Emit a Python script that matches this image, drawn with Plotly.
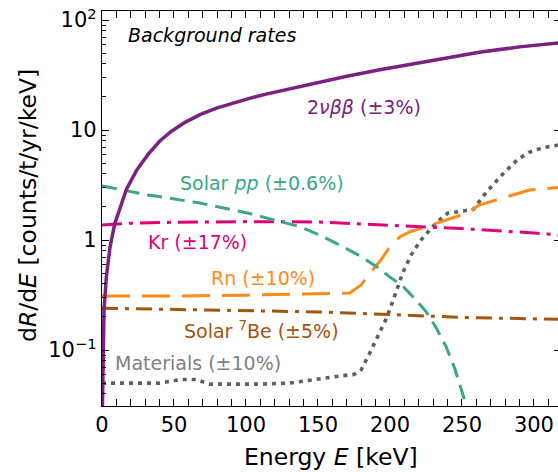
import plotly.graph_objects as go

# ---------------- data ----------------
E_2nu = [0.3, 0.7, 1.4, 3, 5.5, 8.8, 12, 17, 24, 32, 40, 48, 58, 68, 80, 91, 103, 114, 126, 138, 155, 170, 193, 216, 240, 262, 290, 317]
R_2nu = [0.03, 0.1, 0.23, 0.46, 0.85, 1.4, 1.9, 2.9, 4.3, 6.0, 7.9, 9.7, 11.8, 13.8, 15.9, 17.6, 19.5, 21.2, 23.0, 24.8, 27.8, 30.8, 35.3, 40.0, 45.5, 51.0, 57.0, 62.0]

E_pp = [0, 32, 67, 101, 137.5, 151, 165, 179, 191, 200, 209, 217, 225.5, 232, 239, 245, 251, 254]
R_pp = [3.1, 2.57, 2.18, 1.76, 1.32, 1.11, 0.90, 0.72, 0.57, 0.46, 0.38, 0.295, 0.22, 0.16, 0.107, 0.068, 0.038, 0.025]

E_kr = [0, 20, 50, 100, 150, 200, 250, 300, 317]
R_kr = [1.37, 1.42, 1.45, 1.47, 1.46, 1.36, 1.27, 1.16, 1.11]

E_rn = [0, 50, 100, 137, 160, 172, 180, 186, 193, 200, 207, 214, 225, 239, 253, 262, 281, 297, 317]
R_rn = [0.31, 0.31, 0.315, 0.325, 0.33, 0.33, 0.39, 0.5, 0.64, 0.87, 1.07, 1.19, 1.32, 1.52, 1.75, 2.08, 2.48, 2.85, 3.0]

E_be = [0, 50, 100, 150, 200, 250, 317]
R_be = [0.24, 0.235, 0.23, 0.222, 0.21, 0.198, 0.19]

E_mat = [0, 20, 40, 55, 65, 75, 90, 110, 130, 150, 165, 175, 180, 186, 193, 198, 204, 209, 215, 221, 228, 233, 240, 250, 258, 267, 279, 289, 297, 306, 317]
R_mat = [0.05, 0.05, 0.05, 0.054, 0.054, 0.049, 0.049, 0.049, 0.05, 0.055, 0.058, 0.06, 0.066, 0.094, 0.143, 0.2, 0.33, 0.51, 0.74, 0.98, 1.25, 1.47, 1.75, 1.84, 1.9, 2.73, 4.06, 5.45, 6.3, 6.9, 7.3]

y_tickvals = [0.1, 1, 10, 100]
y_ticktext = ["10<sup>−1</sup>", "1", "10", "10<sup>2</sup>"]
y_minor = [m * 10 ** p for p in (-2, -1, 0, 1) for m in range(2, 10)]
x_tickvals = [0, 50, 100, 150, 200, 250, 300]

labels = [
    ("<i>Background rates</i>", "black"),
    ("2<i>νββ</i> (±3%)", "#7B2180"),
    ("Solar <i>pp</i> (±0.6%)", "#3BA883"),
    ("Kr (±17%)", "#E2007A"),
    ("Rn (±10%)", "#FF8B17"),
    ("Solar <sup>7</sup>Be (±5%)", "#A5540C"),
    ("Materials (±10%)", "#808080"),
]

# ---------------- figure ----------------
W, H = 558, 472
L, R, T, B = 102, 0, 11, 66
PW, PH = W - L - R, H - T - B
FONT = "DejaVu Sans"

fig = go.Figure()
fig.add_trace(go.Scatter(x=E_mat, y=R_mat, mode="lines",
                         line=dict(color="#5f5f5f", width=3.6, dash="4px,5px")))
fig.add_trace(go.Scatter(x=E_be, y=R_be, mode="lines",
                         line=dict(color="#A5540C", width=3, dash="16px,7px,4px,7px")))
fig.add_trace(go.Scatter(x=E_rn, y=R_rn, mode="lines",
                         line=dict(color="#FF8B17", width=3, dash="28px,12px")))
fig.add_trace(go.Scatter(x=E_kr, y=R_kr, mode="lines",
                         line=dict(color="#E2007A", width=3, dash="20px,7px,4px,7px")))
fig.add_trace(go.Scatter(x=E_pp, y=R_pp, mode="lines",
                         line=dict(color="#3BA883", width=3, dash="15px,8px")))
fig.add_trace(go.Scatter(x=E_2nu, y=R_2nu, mode="lines",
                         line=dict(color="#7B2180", width=3.5)))
fig.add_trace(go.Scatter(x=[None], y=[None], yaxis="y2", showlegend=False))


def px2paper(px, py):
    return (px - L) / PW, (H - B - py) / PH


label_pos = [(126, 35), (305, 107), (178, 183), (146, 242), (209, 278), (182, 330), (113, 363)]
for (txt, col), (px, py) in zip(labels, label_pos):
    ax_, ay_ = px2paper(px, py)
    fig.add_annotation(text=txt, x=ax_, y=ay_, xref="paper", yref="paper",
                       xanchor="left", yanchor="middle", showarrow=False,
                       font=dict(family=FONT, size=19, color=col))

# axis titles
tx, ty = px2paper(331, 457)
fig.add_annotation(text="Energy <i>E</i> [keV]", x=tx, y=ty, xref="paper", yref="paper",
                   xanchor="center", yanchor="middle", showarrow=False,
                   font=dict(family=FONT, size=23.5, color="black"))
tx, ty = px2paper(28, 206)
fig.add_annotation(text="d<i>R</i>/d<i>E</i> [counts/t/yr/keV]", x=tx, y=ty,
                   xref="paper", yref="paper", textangle=-90,
                   xanchor="center", yanchor="middle", showarrow=False,
                   font=dict(family=FONT, size=23.5, color="black"))

yrange = [-1.509, 2.082]
fig.update_layout(
    width=W, height=H,
    margin=dict(l=L, r=R, t=T, b=B, pad=0, autoexpand=False),
    paper_bgcolor="white", plot_bgcolor="white",
    showlegend=False,
    font=dict(family=FONT, size=21, color="black"),
    xaxis=dict(range=[0, 316.7], tickvals=x_tickvals, ticks="inside", ticklen=7,
               tickwidth=1.2, tickcolor="black", showline=True, linecolor="black",
               linewidth=1.3, mirror="allticks", showgrid=False, zeroline=False,
               automargin=False,
               minor=dict(dtick=10, tick0=0, ticks="inside", ticklen=4,
                          tickwidth=1.1, tickcolor="black", showgrid=False),
               tickfont=dict(family=FONT, size=21)),
    yaxis=dict(type="log", range=yrange, tickvals=y_tickvals, ticktext=y_ticktext,
               ticks="inside", ticklen=7, tickwidth=1.2, tickcolor="black",
               showline=True, linecolor="black", linewidth=1.3, mirror=False,
               showgrid=False, zeroline=False, automargin=False,
               minor=dict(tickvals=y_minor, ticks="inside", ticklen=4,
                          tickwidth=1.1, tickcolor="black", showgrid=False),
               tickfont=dict(family=FONT, size=21)),
    yaxis2=dict(type="log", range=yrange, overlaying="y", side="right",
                tickvals=y_tickvals, showticklabels=False, automargin=False,
                ticks="inside", ticklen=4, tickwidth=1.2, tickcolor="black",
                showline=False, showgrid=False, zeroline=False),
)

fig.write_html("out.html", config={"displayModeBar": False},
               post_script="document.body.style.margin='0';")
